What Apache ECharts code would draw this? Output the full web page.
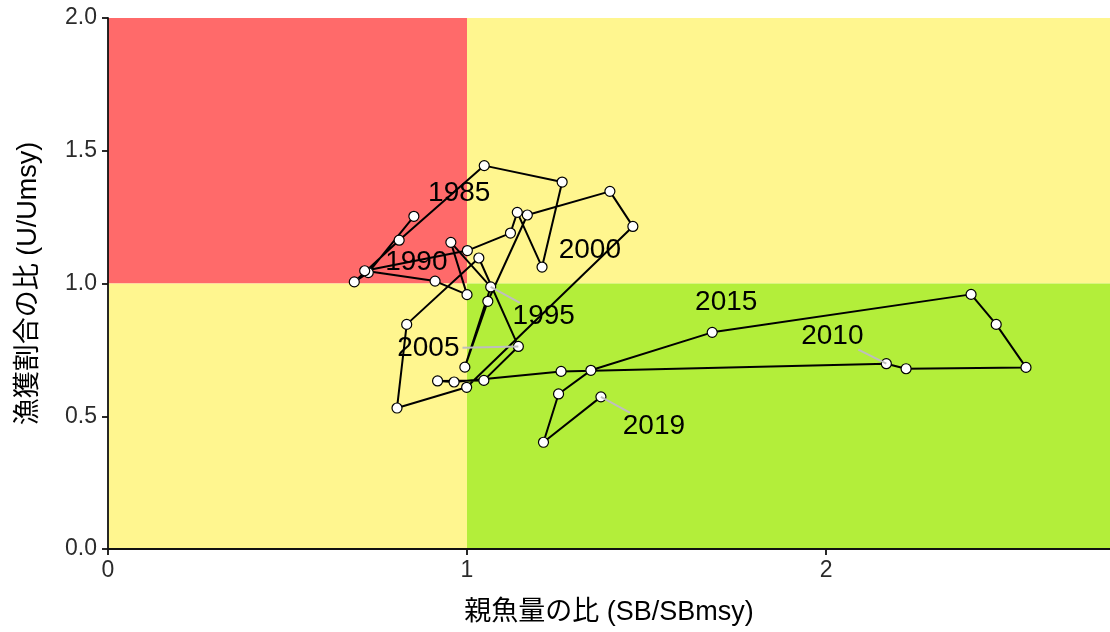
<!DOCTYPE html>
<html>
<head>
<meta charset="utf-8">
<script src="https://cdn.jsdelivr.net/npm/echarts@6/dist/echarts.min.js"></script>
<style>
  html, body { margin: 0; padding: 0; background: #ffffff; }
  #chart { width: 1110px; height: 632px; }
</style>
</head>
<body>
<div id="chart"></div>
<script>
// Kobe plot: spawning biomass ratio vs. exploitation rate ratio, by year
const years = [
  1981, 1982, 1983, 1984, 1985, 1986, 1987, 1988, 1989, 1990,
  1991, 1992, 1993, 1994, 1995, 1996, 1997, 1998, 1999, 2000,
  2001, 2002, 2003, 2004, 2005, 2006, 2007, 2008, 2009, 2010,
  2011, 2012, 2013, 2014, 2015, 2016, 2017, 2018, 2019
];
// SB/SBmsy
const sbRatio = [
  0.852, 0.725, 0.686, 0.811, 1.048, 1.265, 1.209, 1.140, 1.121, 1.001,
  0.715, 0.911, 1.000, 0.955, 1.066, 0.994, 1.058, 1.168, 1.398, 1.462,
  0.999, 0.805, 0.832, 1.033, 1.143, 1.047, 0.918, 0.964, 1.262, 2.168,
  2.223, 2.557, 2.474, 2.404, 1.683, 1.345, 1.255, 1.213, 1.373
];
// U/Umsy
const uRatio = [
  1.253, 1.041, 1.006, 1.163, 1.444, 1.382, 1.062, 1.268, 1.190, 1.124,
  1.048, 1.009, 0.958, 1.155, 0.987, 0.685, 0.933, 1.258, 1.347, 1.215,
  0.609, 0.531, 0.846, 1.096, 0.763, 0.635, 0.633, 0.629, 0.669, 0.698,
  0.679, 0.684, 0.846, 0.959, 0.816, 0.673, 0.584, 0.402, 0.573
];
const labelYears = [1985, 1990, 1995, 2000, 2005, 2010, 2015, 2019];

const xTicks = [0, 1, 2];
const yTicks = [0.0, 0.5, 1.0, 1.5, 2.0];
const xMax = 2.791;
const yMax = 2.0;
const refPoint = 1.0;

const xTitle = '親魚量の比 (SB/SBmsy)';
const yTitle = '漁獲割合の比 (U/Umsy)';

// label placement (pixel offset of label centre from its point) and leader flag
const labelPlacement = {
  1985: [-25, 28, false],
  1990: [-51, 12, false],
  1995: [53, 29, true],
  2000: [-43, 24, false],
  2005: [-90, 2, true],
  2010: [-54, -27, true],
  2015: [14, -30, false],
  2019: [53, 29, true]
};

const FONT = '"Liberation Sans", Arial, "Noto Sans CJK JP", sans-serif';
const RED = '#FF6A6A', YELLOW = '#FFF68F', GREEN = '#B3EE3A';
const AXIS = '#111111';

const trajectory = years.map((y, i) => [sbRatio[i], uRatio[i], y]);
const labelled = trajectory.filter(d => labelYears.includes(d[2]));

const chart = echarts.init(document.getElementById('chart'), null, { renderer: 'canvas' });

const option = {
  animation: false,
  backgroundColor: '#ffffff',
  grid: { left: 108, right: 0, top: 18, bottom: 83, containLabel: false },
  xAxis: {
    type: 'value',
    z: 10,
    min: 0, max: xMax, interval: 1,
    name: xTitle,
    nameLocation: 'middle',
    nameGap: 50,
    nameTextStyle: { fontFamily: FONT, fontSize: 27, color: '#000' },
    axisLine: { show: true, onZero: false, lineStyle: { color: AXIS, width: 1.8 } },
    axisTick: { show: true, inside: false, length: 6,
      lineStyle: { color: AXIS, width: 1.8 } },
    axisLabel: {
      fontFamily: FONT, fontSize: 23, color: '#2b2b2b', margin: 10,
      showMaxLabel: false,
      formatter: v => (xTicks.includes(v) ? String(v) : '')
    },
    splitLine: { show: false }
  },
  yAxis: {
    type: 'value',
    z: 10,
    min: 0, max: yMax, interval: 0.5,
    name: yTitle,
    nameLocation: 'middle',
    nameGap: 66,
    nameTextStyle: { fontFamily: FONT, fontSize: 27, color: '#000' },
    axisLine: { show: true, onZero: false, lineStyle: { color: AXIS, width: 1.8 } },
    axisTick: { show: true, inside: false, length: 6,
      lineStyle: { color: AXIS, width: 1.8 } },
    axisLabel: {
      fontFamily: FONT, fontSize: 23, color: '#2b2b2b', margin: 11,
      formatter: v => (yTicks.includes(v) ? v.toFixed(1) : '')
    },
    splitLine: { show: false }
  },
  series: [
    {
      // status zones
      type: 'line',
      data: [],
      silent: true,
      z: 0,
      markArea: {
        silent: true,
        data: [
          [{ coord: [0, refPoint], itemStyle: { color: RED } }, { coord: [refPoint, yMax] }],
          [{ coord: [refPoint, refPoint], itemStyle: { color: YELLOW } }, { coord: [xMax, yMax] }],
          [{ coord: [0, 0], itemStyle: { color: YELLOW } }, { coord: [refPoint, refPoint] }],
          [{ coord: [refPoint, 0], itemStyle: { color: GREEN } }, { coord: [xMax, refPoint] }]
        ]
      }
    },
    {
      // yearly trajectory
      type: 'line',
      data: trajectory,
      z: 3,
      symbol: 'circle',
      symbolSize: 10,
      showAllSymbol: true,
      lineStyle: { color: '#000', width: 2 },
      itemStyle: { color: '#ffffff', borderColor: '#000', borderWidth: 1.2 },
      emphasis: { disabled: true }
    },
    {
      // year labels with leader segments
      type: 'custom',
      data: labelled,
      z: 5,
      silent: true,
      renderItem: function (params, api) {
        const yr = api.value(2);
        const pt = api.coord([api.value(0), api.value(1)]);
        const place = labelPlacement[yr];
        const dx = place[0], dy = place[1];
        const cx = pt[0] + dx, cy = pt[1] + dy;
        const children = [];
        if (place[2]) {
          const hw = 4 * 0.556 * 28 / 2 + 3, hh = 13;
          const t = Math.min(Math.abs(dx) > 0 ? hw / Math.abs(dx) : 99,
                             Math.abs(dy) > 0 ? hh / Math.abs(dy) : 99);
          const f = Math.max(0, 1 - t);
          children.push({
            type: 'line',
            shape: { x1: pt[0], y1: pt[1], x2: pt[0] + dx * f, y2: pt[1] + dy * f },
            style: { stroke: '#BEBEBE', lineWidth: 2 }
          });
        }
        children.push({
          type: 'text',
          style: {
            text: String(yr), x: cx, y: cy,
            align: 'center', verticalAlign: 'middle',
            font: '28px ' + FONT, fill: '#000'
          }
        });
        return { type: 'group', children: children };
      }
    }
  ]
};

chart.setOption(option);
</script>
</body>
</html>
